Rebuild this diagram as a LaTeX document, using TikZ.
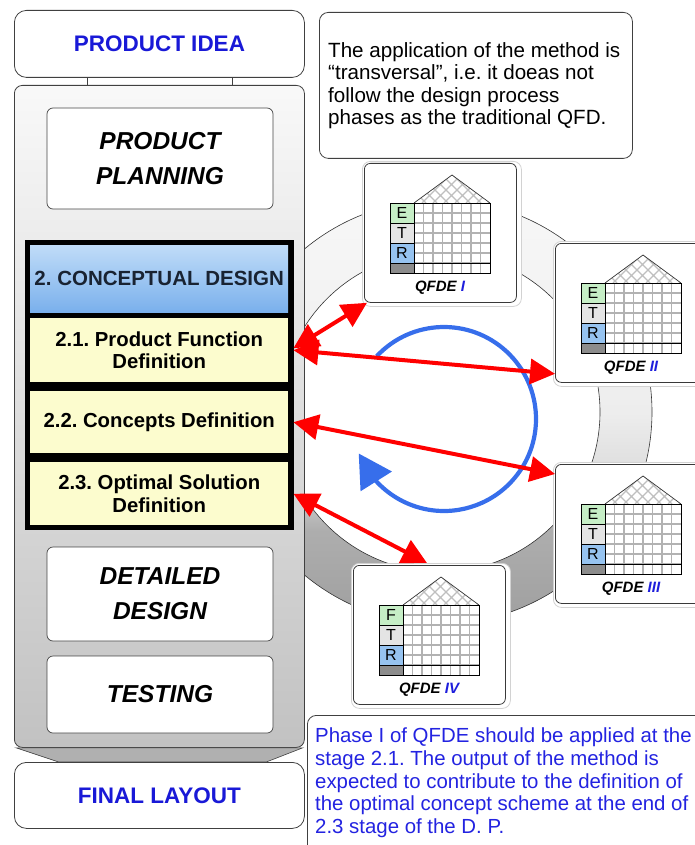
\documentclass[tikz,border=0pt]{standalone}
\usepackage{fontspec}
\setmainfont{Liberation Sans}
\frenchspacing
\usetikzlibrary{arrows.meta,bending,calc,shadings}

\definecolor{ideablue}{RGB}{25,25,215}
\definecolor{numblue}{RGB}{30,30,220}
\definecolor{notetext}{RGB}{35,35,225}
\definecolor{ringblue}{RGB}{55,110,235}
\definecolor{hdrtop}{RGB}{192,220,248}
\definecolor{hdrbot}{RGB}{122,176,236}
\definecolor{hdrtext}{RGB}{25,35,50}
\definecolor{stageyellow}{RGB}{252,252,206}
\definecolor{cellE}{RGB}{198,238,198}
\definecolor{cellT}{RGB}{228,228,228}
\definecolor{cellR}{RGB}{150,195,240}
\definecolor{cellX}{RGB}{140,140,140}

% vertical shading of the cycle ring: dark at the bottom, almost white on top
\pgfdeclareverticalshading{ringshade}{100bp}{%
  color(0bp)=(gray!75); color(25bp)=(gray!75); color(36bp)=(gray!64);
  color(42bp)=(gray!28); color(50bp)=(gray!14); color(75bp)=(gray!6);
  color(100bp)=(gray!6)}

% one QFDE matrix card: #1 name, #2 x, #3 y, #4 first row letter, #5 phase numeral
\newcommand{\qfdeunit}[5]{%
  \node[qframe, anchor=north west] (#1frame) at (#2-2,#3-2) {};
  \node[qbox, anchor=north west] (#1) at (#2,#3) {};
  \begin{scope}[shift={(#1.north west)}]
    \fill[cellE] (26,40) rectangle (50,60);
    \fill[cellT] (26,60) rectangle (50,80);
    \fill[cellR] (26,80) rectangle (50,100);
    \fill[cellX] (26,100) rectangle (50,110);
    \draw[gray!60, line width=1.6pt]
      \foreach \i in {1,...,7} {(50+\i*9.5,40) -- ++(0,70)}
      \foreach \j in {1,...,6} {(50,40+\j*10) -- ++(76,0)};
    \begin{scope}
      \clip (50,40) -- (88,12) -- (126,40) -- cycle;
      \draw[gray!50, line width=1.1pt]
        \foreach \k in {0,...,9} {(40+\k*11,40) -- ++(-32,-32) (36+\k*11,40) -- ++(32,-32)};
    \end{scope}
    \draw[gray!40!black, line width=0.7pt] (50,40) -- (88,12) -- (126,40);
    \draw[black, line width=0.9pt] (26,40) rectangle (126,110)
      (50,40) -- (50,110) (26,100) -- (126,100) (26,60) -- (50,60) (26,80) -- (50,80);
    \node[cellletter] (#1e) at (38,50) {#4};
    \node[cellletter] (#1t) at (38,70) {T};
    \node[cellletter] (#1r) at (38,90) {R};
    \node[qlabel] (#1lab) at (76,125) {QFDE \textcolor{numblue}{#5}};
  \end{scope}}

\begin{document}
\begin{tikzpicture}[x=1pt,y=-1pt,
  capbox/.style={draw=gray!50!black, line width=0.8pt, fill=white, rounded corners=12pt,
    minimum width=290pt, text=ideablue, font=\bfseries\fontsize{22.5}{26}\selectfont},
  panelbox/.style={draw=gray!50!black, line width=0.8pt, rounded corners=8pt,
    top color=gray!5, bottom color=gray!48},
  stagebox/.style={draw=gray!55!black, line width=0.7pt, fill=white, rounded corners=6pt,
    minimum width=226pt, align=center, font=\bfseries\itshape\fontsize{24.5}{35}\selectfont},
  hdrbox/.style={top color=hdrtop, bottom color=hdrbot, inner sep=0pt,
    minimum width=258pt, minimum height=67pt, text=hdrtext,
    font=\bfseries\fontsize{20.5}{24}\selectfont},
  yelbox/.style={fill=stageyellow, inner sep=0pt, minimum width=258pt, align=center,
    font=\bfseries\fontsize{20.3}{22.5}\selectfont},
  notebox/.style={draw=gray!50!black, line width=0.8pt, fill=white, rounded corners=9pt},
  qframe/.style={draw=gray!35, line width=0.8pt, fill=white, rounded corners=8pt,
    minimum width=159pt, minimum height=145pt, inner sep=0pt},
  qbox/.style={draw=gray!45!black, line width=0.8pt, fill=white, rounded corners=6pt,
    minimum width=152pt, minimum height=139pt, inner sep=0pt},
  cellletter/.style={inner sep=0pt, font=\fontsize{16}{16}\selectfont},
  qlabel/.style={inner sep=0pt, font=\bfseries\itshape\fontsize{15}{16}\selectfont},
  redarrow/.style={draw=red, line width=4pt,
    {Triangle[length=25pt,width=25pt]}-{Triangle[length=25pt,width=25pt]}},
  bluearc/.style={draw=ringblue, line width=4.2pt, -{Triangle[length=33pt,width=36pt]}}
]
\useasboundingbox (0,0) rectangle (695,845);
\clip (0,0) rectangle (695,845);

% ---- cycle ring behind the QFDE cards ----
\coordinate (rc) at (440,412);
\shade[shading=ringshade, even odd rule] (rc) circle[radius=212pt] (rc) circle[radius=160pt];
\draw[gray!40!black, line width=0.6pt] (rc) circle[radius=212pt] (rc) circle[radius=160pt];

% ---- design process column ----
\node[capbox, anchor=north west, minimum height=67pt] (idea) at (14,10) {PRODUCT IDEA};
\node[panelbox, anchor=north west, minimum width=290pt, minimum height=662pt] (panel) at (14,85) {};
\draw[gray!50!black, line width=0.8pt]
  ($(idea.south west)+(73,0)$) -- ($(panel.north west)+(73,0)$)
  ($(idea.south west)+(218,0)$) -- ($(panel.north west)+(218,0)$);
\filldraw[fill=gray!62, draw=gray!50!black, line width=0.6pt]
  ($(panel.south west)+(2,0)$) -- ++(42,14) -- ($(panel.south east)+(-38,14)$)
  -- ($(panel.south east)+(-2,0)$) -- cycle;

\node[stagebox, minimum height=101pt] (plan) at (160,158.5) {PRODUCT\\PLANNING};

\node[fill=black, inner sep=0pt, minimum width=269pt, minimum height=290pt, anchor=north west]
  (cframe) at (25,240) {};
\node[hdrbox, anchor=north west] (cd) at (30,245) {2. CONCEPTUAL DESIGN};
\node[yelbox, anchor=north west, minimum height=64pt] (d21) at (30,318) {2.1. Product Function\\Definition};
\node[yelbox, anchor=north west, minimum height=62pt] (d22) at (30,391) {2.2. Concepts Definition};
\node[yelbox, anchor=north west, minimum height=63pt] (d23) at (30,462) {2.3. Optimal Solution\\Definition};

\node[stagebox, minimum height=94pt] (detail) at (160,594) {DETAILED\\DESIGN};
\node[stagebox, minimum height=77pt] (test) at (160,694.5) {TESTING};
\node[capbox, anchor=north west, minimum height=66pt] (final) at (14,762) {FINAL LAYOUT};

% ---- notes ----
\node[notebox, anchor=north west, minimum width=313pt, minimum height=146pt] (topnote) at (319,12) {};
\node[anchor=north west, inner sep=0pt, align=left, font=\fontsize{20.6}{22.5}\selectfont]
  (topnotetext) at (328,42) {The application of the method is\\“transversal”, i.e. it doeas not\\follow the design process\\phases as the traditional QFD.};

\node[notebox, anchor=north west, minimum width=420pt, minimum height=160pt] (botnote) at (307,715) {};
\node[anchor=north west, inner sep=0pt, align=left, text=notetext, font=\fontsize{20.4}{22.6}\selectfont]
  (botnotetext) at (315,728) {Phase I of QFDE should be applied at the\\stage 2.1. The output of the method is\\expected to contribute to the definition of\\the optimal concept scheme at the end of\\2.3 stage of the D. P.};

% ---- QFDE cards on the ring ----
\qfdeunit{q1}{364}{163}{E}{I}
\qfdeunit{q2}{555}{243}{E}{II}
\qfdeunit{q3}{555}{464}{E}{III}
\qfdeunit{q4}{353}{565}{F}{IV}

% ---- iteration arrow ----
\coordinate (ac) at (444,419);
\draw[bluearc] (ac) ++(137:92pt) arc[start angle=137, end angle=-158, radius=92pt];

% ---- links between stages and QFDE phases ----
\draw[redarrow] ($(d21.east)+(5,-2)$) -- ($(q1.south west)+(3,0)$);
\draw[redarrow] ($(d21.east)+(5,0)$) -- ($(q2.south west)+(0,-9)$);
\draw[redarrow] ($(d22.east)+(5,0)$) -- ($(q3.north west)+(0,10)$);
\draw[redarrow] ($(d23.east)+(5,0)$) -- ($(q4.north west)+(74,-2)$);
\end{tikzpicture}
\end{document}
